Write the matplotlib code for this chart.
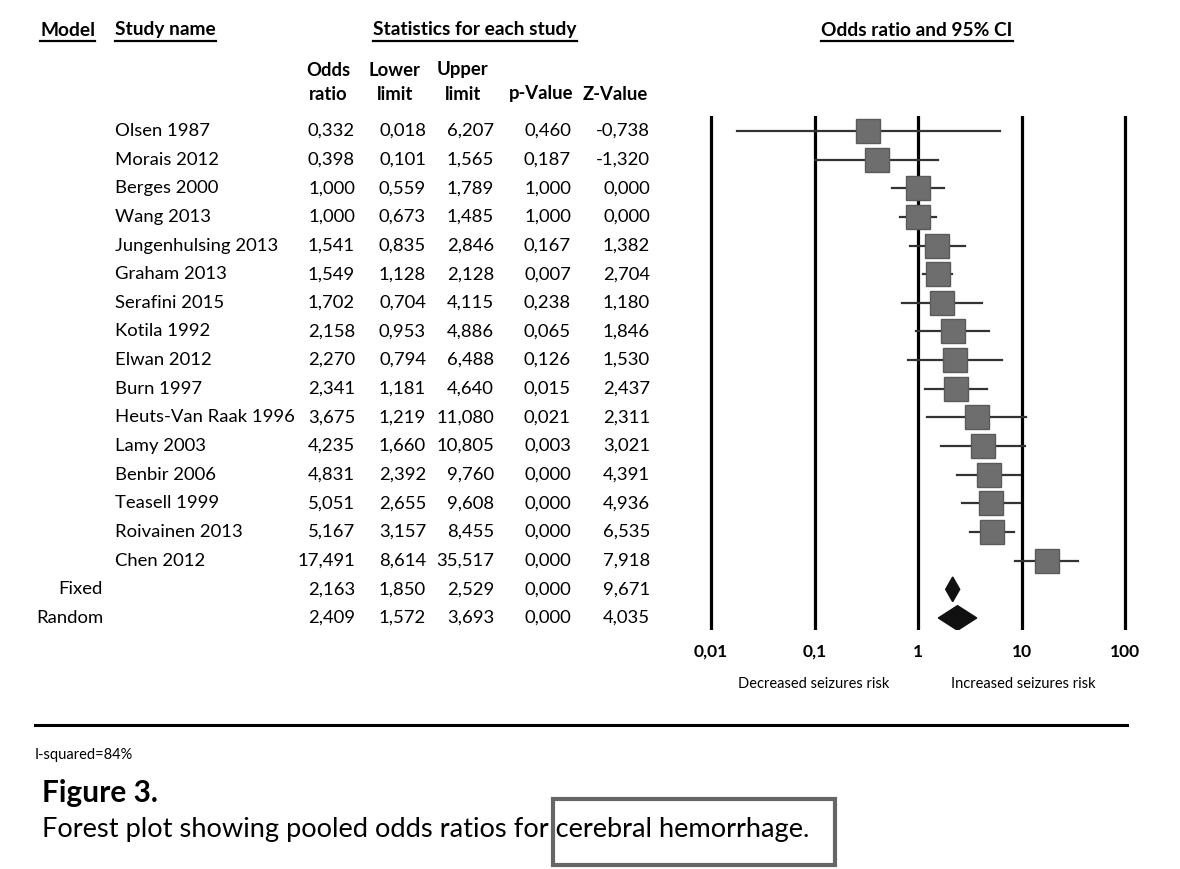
import matplotlib
matplotlib.use("Agg")
import matplotlib.pyplot as plt
import matplotlib.transforms as mtransforms
from matplotlib.lines import Line2D
from matplotlib.patches import Rectangle, Polygon

W, H = 1180, 869

# study data
studies = ["Olsen 1987", "Morais 2012", "Berges 2000", "Wang 2013", "Jungenhulsing 2013",
           "Graham 2013", "Serafini 2015", "Kotila 1992", "Elwan 2012", "Burn 1997",
           "Heuts-Van Raak 1996", "Lamy 2003", "Benbir 2006", "Teasell 1999",
           "Roivainen 2013", "Chen 2012"]
odds = [0.332, 0.398, 1.000, 1.000, 1.541, 1.549, 1.702, 2.158, 2.270, 2.341,
        3.675, 4.235, 4.831, 5.051, 5.167, 17.491]
lower = [0.018, 0.101, 0.559, 0.673, 0.835, 1.128, 0.704, 0.953, 0.794, 1.181,
         1.219, 1.660, 2.392, 2.655, 3.157, 8.614]
upper = [6.207, 1.565, 1.789, 1.485, 2.846, 2.128, 4.115, 4.886, 6.488, 4.640,
         11.080, 10.805, 9.760, 9.608, 8.455, 35.517]
pvals = [0.460, 0.187, 1.000, 1.000, 0.167, 0.007, 0.238, 0.065, 0.126, 0.015,
         0.021, 0.003, 0.000, 0.000, 0.000, 0.000]
zvals = [-0.738, -1.320, 0.000, 0.000, 1.382, 2.704, 1.180, 1.846, 1.530, 2.437,
         2.311, 3.021, 4.391, 4.936, 6.535, 7.918]

models = ["Fixed", "Random"]
pooled_odds = [2.163, 2.409]
pooled_lower = [1.850, 1.572]
pooled_upper = [2.529, 3.693]
pooled_p = [0.000, 0.000]
pooled_z = [9.671, 4.035]

axis_ticks = [0.01, 0.1, 1, 10, 100]
tick_labels = ["0,01", "0,1", "1", "10", "100"]

plt.rcParams['font.family'] = ['Lato', 'DejaVu Sans']


def fx(px):
    return px / W


def fy(py):
    return 1 - py / H


def fmt(v):
    return f"{v:.3f}".replace(".", ",")


fig = plt.figure(figsize=(W / 100, H / 100), dpi=100)

# forest plot axes, 103.5 px per decade, 1 at x=918
ax_left, ax_right = 690, 1146
ax_top, ax_bot = 116, 630
ax = fig.add_axes([fx(ax_left), fy(ax_bot), (ax_right - ax_left) / W, (ax_bot - ax_top) / H])
ax.set_xscale("log")
dec = 103.5
ax.set_xlim(10 ** ((ax_left - 918) / dec), 10 ** ((ax_right - 918) / dec))
ax.set_ylim(17.42, -0.52)
for s in ax.spines.values():
    s.set_visible(False)
ax.set_yticks([])
for t in axis_ticks:
    ax.axvline(t, color="black", lw=2.3, zorder=1)
ax.set_xticks(axis_ticks)
ax.set_xticklabels(tick_labels, fontsize=12.5, fontweight="bold")
ax.tick_params(axis="x", length=0, pad=10)
ax.minorticks_off()

rows = list(range(len(studies)))
for i in rows:
    ax.plot([lower[i], upper[i]], [i, i], color="#333333", lw=1.6, zorder=2)
ax.plot(odds, rows, linestyle="none", marker="s", markersize=17.5,
        markerfacecolor="#6e6e6e", markeredgecolor="#5a5a5a", zorder=3)

for k in range(len(models)):
    y = len(studies) + k
    hh = 0.43
    ax.add_patch(Polygon([(pooled_lower[k], y), (pooled_odds[k], y - hh),
                          (pooled_upper[k], y), (pooled_odds[k], y + hh)],
                         closed=True, facecolor="#111111", edgecolor="#111111", zorder=3))

# table text, rows tied to the forest axis
tr = mtransforms.blended_transform_factory(fig.transFigure, ax.transData)
fs = 13.3
cols_right = [355, 426, 494, 571, 650]
for i in rows:
    fig.text(fx(115), i, studies[i], transform=tr, fontsize=fs, va="center", ha="left")
    for px, v in zip(cols_right, [odds[i], lower[i], upper[i], pvals[i], zvals[i]]):
        fig.text(fx(px), i, fmt(v), transform=tr, fontsize=fs, va="center", ha="right")
for k in range(len(models)):
    y = len(studies) + k
    fig.text(fx(103), y, models[k], transform=tr, fontsize=fs, va="center", ha="right")
    for px, v in zip(cols_right, [pooled_odds[k], pooled_lower[k], pooled_upper[k],
                                  pooled_p[k], pooled_z[k]]):
        fig.text(fx(px), y, fmt(v), transform=tr, fontsize=fs, va="center", ha="right")

# column headers
hdr = [("Odds", "ratio", 328), ("Lower", "limit", 395), ("Upper", "limit", 463),
       ("", "p-Value", 541), ("", "Z-Value", 615)]
for top, bot, px in hdr:
    if top:
        fig.text(fx(px), fy(70), top, fontsize=13.3, fontweight="bold", ha="center", va="center")
    fig.text(fx(px), fy(94), bot, fontsize=13.3, fontweight="bold", ha="center", va="center")

titles = [("Model", 40, "left"), ("Study name", 115, "left"),
          ("Statistics for each study", 475, "center"),
          ("Odds ratio and 95% CI", 917, "center")]
title_objs = []
for txt, px, ha in titles:
    title_objs.append(fig.text(fx(px), fy(30), txt, fontsize=13.8, fontweight="bold",
                               ha=ha, va="center"))

fig.text(fx(814), fy(684), "Decreased seizures risk", fontsize=10.5, ha="center", va="center")
fig.text(fx(1023), fy(684), "Increased seizures risk", fontsize=10.5, ha="center", va="center")

fig.add_artist(Line2D([fx(35), fx(1127)], [fy(725), fy(725)], color="black", lw=2.2))
fig.text(fx(35), fy(755), "I-squared=84%", fontsize=10.5, ha="left", va="center")
fig.text(fx(42), fy(793), "Figure 3.", fontsize=21.5, fontweight="bold", ha="left", va="center")
fig.text(fx(42), fy(830), "Forest plot showing pooled odds ratios for cerebral hemorrhage.",
         fontsize=19.6, ha="left", va="center")
fig.add_artist(Rectangle((fx(553), fy(865)), (835 - 553) / W, (865 - 799) / H,
                         transform=fig.transFigure, fill=False, edgecolor="#666666", lw=3))

# underline the header titles
fig.canvas.draw()
rend = fig.canvas.get_renderer()
for t in title_objs:
    bb = t.get_window_extent(rend).transformed(fig.transFigure.inverted())
    fig.add_artist(Line2D([bb.x0, bb.x1], [fy(41), fy(41)], color="black", lw=1.6))

fig.savefig("out.png", dpi=100)
